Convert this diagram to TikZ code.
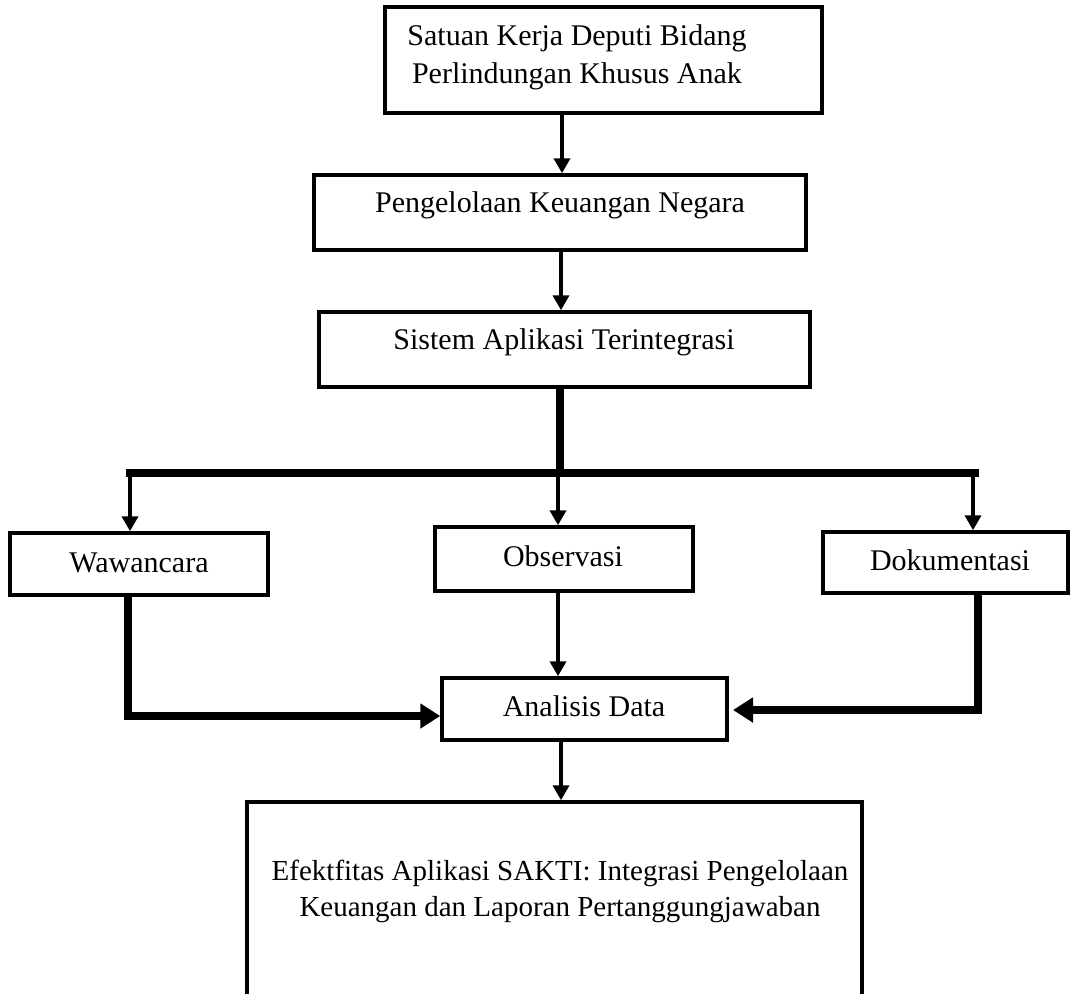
\documentclass[tikz,border=0pt]{standalone}
\usepackage{fontspec}
\setmainfont{Liberation Serif}
\usetikzlibrary{arrows.meta}
\begin{document}
\begin{tikzpicture}[x=1pt,y=-1pt,
  box/.style={draw, line width=3.5pt, rectangle, inner sep=0pt},
  lbl/.style={font=\fontsize{30}{38}\selectfont, inner sep=0pt, anchor=base},
  arr/.style={line width=4.5pt, -{Triangle[length=15pt,width=16pt]}},
  bar/.style={line width=8pt},
  bararr/.style={line width=8pt, -{Triangle[length=20pt,width=24pt]}}]
\useasboundingbox (0,0) rectangle (1070,993);
\clip (0,0) rectangle (1070,993);

% boxes
\node[box, minimum width=437pt, minimum height=106pt] (b1) at (603.5,60) {};
\node[lbl, align=center, anchor=center] (b1t) at (577,57) {Satuan Kerja Deputi Bidang\\Perlindungan Khusus Anak};

\node[box, minimum width=492pt, minimum height=75pt] (b2) at (560,212.5) {};
\node[lbl] (b2t) at (560,212) {Pengelolaan Keuangan Negara};

\node[box, minimum width=491pt, minimum height=75pt] (b3) at (564.5,349.5) {};
\node[lbl] (b3t) at (564,349) {Sistem Aplikasi Terintegrasi};

\node[box, minimum width=258pt, minimum height=62pt] (ww) at (139,564) {};
\node[lbl] (wwt) at (139,572) {Wawancara};

\node[box, minimum width=258pt, minimum height=64pt] (ob) at (564,559) {};
\node[lbl] (obt) at (563,566) {Observasi};

\node[box, minimum width=245pt, minimum height=61pt] (dk) at (945.5,562.5) {};
\node[lbl] (dkt) at (950,570) {Dokumentasi};

\node[box, minimum width=285pt, minimum height=62pt] (an) at (584.5,709) {};
\node[lbl] (ant) at (584,716) {Analisis Data};

\node[box, minimum width=615pt, minimum height=196pt] (ef) at (554.5,900) {};
\node[lbl, align=center, anchor=center, font=\fontsize{29}{36}\selectfont] (eft) at (560,891) {Efektfitas Aplikasi SAKTI: Integrasi Pengelolaan\\Keuangan dan Laporan Pertanggungjawaban};

% connectors
\coordinate (c1) at (562,0);
\draw[arr] (b1.south -| c1) -- (b2.north -| c1);
\coordinate (c2) at (561,0);
\draw[arr] (b2.south -| c2) -- (b3.north -| c2);

\coordinate (j) at (560,473);
\coordinate (jl) at (130,473);
\coordinate (jr) at (975,473);
\coordinate (jo) at (558,473);
\coordinate (jd) at (973,473);
\draw[bar] (b3.south -| j) -- (j);
\draw[bar, line cap=rect] (jl) -- (jr);
\draw[arr] (jl) -- (ww.north -| jl);
\draw[arr] (jo) -- (ob.north -| jo);
\draw[arr] (jd) -- (dk.north -| jd);

\draw[arr] (ob.south -| jo) -- (an.north -| jo);

\coordinate (wc) at (128,716);
\draw[bararr] (ww.south -| wc) -- (wc) -- (an.west |- wc);

\coordinate (dc) at (978,710);
\coordinate (dtip) at (733,710);
\draw[bararr] (dk.south -| dc) -- (dc) -- (dtip);

\coordinate (c3) at (561,0);
\draw[arr] (an.south -| c3) -- (ef.north -| c3);
\end{tikzpicture}
\end{document}
